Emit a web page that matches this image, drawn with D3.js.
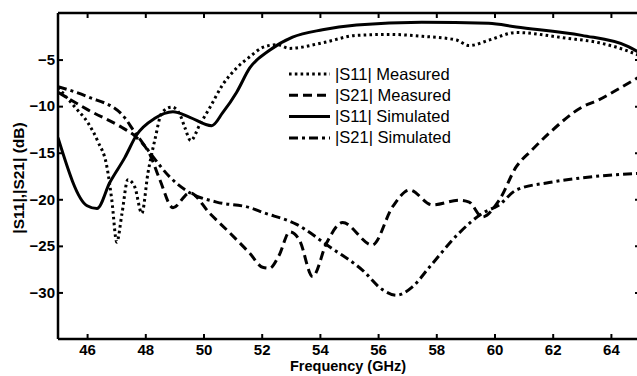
<!DOCTYPE html>
<html>
<head>
<meta charset="utf-8">
<script src="https://cdn.jsdelivr.net/npm/d3@7"></script>
<style>
  html, body { margin: 0; padding: 0; background: #fff; }
  svg { display: block; overflow: hidden; }
</style>
</head>
<body>
<svg id="chart" width="637" height="376"></svg>
<script>
// ---- Data ----
const xTicks = [46, 48, 50, 52, 54, 56, 58, 60, 62, 64];
const yTicks = [-5, -10, -15, -20, -25, -30];

const s11MeasF = [45, 45.58, 46.03, 46.37, 46.68, 46.85, 47.02, 47.2, 47.4, 47.64, 47.88, 48.09, 48.33, 48.57, 48.91, 49.19, 49.36, 49.56, 49.87, 50.21, 50.66, 51.14, 51.59, 52.03, 52.51, 52.96, 54.09, 55.26, 56.39, 57.52, 58.69, 59.13, 59.82, 60.75, 62.46, 63.6, 64.6, 65];
const s11MeasV = [-8.0, -10.1, -11.8, -13.8, -16.5, -20.1, -24.6, -21.5, -17.9, -18.7, -21.5, -17.2, -13.6, -10.7, -10.1, -10.9, -12.3, -13.7, -12.0, -10.2, -7.7, -5.9, -4.7, -3.7, -3.4, -3.8, -3.2, -2.4, -2.3, -2.5, -2.9, -3.5, -2.9, -2.1, -2.7, -3.2, -4.1, -4.6];

const s21MeasF = [45, 46.03, 47.2, 47.64, 48.16, 48.5, 48.95, 49.53, 50.21, 50.9, 51.59, 52.03, 52.27, 52.6, 52.96, 53.3, 53.75, 54.23, 54.78, 55.8, 56.5, 57.08, 57.86, 58.79, 59.13, 59.58, 60.16, 60.75, 61.29, 61.88, 63.01, 63.6, 64.18, 65];
const s21MeasV = [-8.5, -10.4, -12.3, -13.2, -15.2, -17.9, -20.9, -19.3, -21.5, -23.6, -25.8, -27.3, -27.4, -26.0, -23.5, -24.4, -28.3, -24.7, -22.5, -24.9, -20.8, -19.0, -20.6, -20.1, -20.3, -21.9, -20.1, -16.5, -14.7, -12.9, -10.1, -9.3, -8.3, -6.8];

const s11SimF = [45, 46.0, 46.34, 46.78, 47.3, 47.7, 48.33, 48.95, 49.53, 50.28, 50.66, 51.14, 51.59, 52.27, 53.06, 54.09, 55.26, 57.5, 59.8, 60.75, 63.0, 64.6, 65];
const s11SimV = [-13.4, -20.7, -21.0, -18.2, -15.5, -13.1, -11.3, -10.6, -11.2, -12.1, -10.7, -8.5, -5.9, -4.0, -2.6, -1.8, -1.3, -1.0, -1.1, -1.5, -2.4, -3.6, -4.3];

const s21SimF = [45, 46.03, 47.2, 47.64, 48.16, 48.84, 49.53, 50.45, 51.59, 52.03, 53.2, 54.33, 55.46, 56.15, 56.63, 57.18, 57.76, 58.79, 59.58, 60.16, 60.75, 61.88, 63.01, 65];
const s21SimV = [-7.9, -9.0, -10.9, -12.8, -15.0, -17.6, -19.3, -20.3, -20.9, -21.4, -22.7, -25.1, -27.6, -29.7, -30.3, -29.4, -27.3, -23.6, -21.5, -20.6, -19.0, -18.2, -17.7, -17.2];

const legendLabels = ["|S11| Measured", "|S21| Measured", "|S11| Simulated", "|S21| Simulated"];

// ---- Layout ----
const svg = d3.select("#chart");
const L = 58, R = 640, T = 13, B = 339;
const x = d3.scaleLinear().domain([45, 65]).range([L, R]);
const y = d3.scaleLinear().domain([-35, 0]).range([B, T]);

const series = [
  { f: s11MeasF, v: s11MeasV, dash: "2.6,3.2", width: 3 },
  { f: s21MeasF, v: s21MeasV, dash: "9,5", width: 3 },
  { f: s11SimF,  v: s11SimV,  dash: null, width: 3 },
  { f: s21SimF,  v: s21SimV,  dash: "9,4,3,4", width: 3 }
];

svg.append("defs").append("clipPath").attr("id", "clip")
  .append("rect").attr("x", L).attr("y", T).attr("width", R - L).attr("height", B - T);

const line = d3.line().x(d => x(d[0])).y(d => y(d[1])).curve(d3.curveMonotoneX);

const g = svg.append("g").attr("clip-path", "url(#clip)");
series.forEach(s => {
  const pts = s.f.map((f, i) => [f, s.v[i]]);
  g.append("path").datum(pts)
    .attr("d", line)
    .attr("fill", "none")
    .attr("stroke", "#000")
    .attr("stroke-width", s.width)
    .attr("stroke-dasharray", s.dash)
    .attr("stroke-linejoin", "round");
});

// ---- Axes ----
const fontFam = "'Liberation Sans', Arial, sans-serif";
const axB = svg.append("g").attr("transform", `translate(0,${B})`)
  .call(d3.axisBottom(x).tickValues(xTicks).tickSize(-5).tickPadding(5).tickFormat(d3.format("d")));
const axT = svg.append("g").attr("transform", `translate(0,${T})`)
  .call(d3.axisTop(x).tickValues(xTicks).tickSize(-5).tickFormat(""));
const axL = svg.append("g").attr("transform", `translate(${L},0)`)
  .call(d3.axisLeft(y).tickValues(yTicks).tickSize(-5).tickPadding(3).tickFormat(d3.format("d")));
const axR = svg.append("g").attr("transform", `translate(${R},0)`)
  .call(d3.axisRight(y).tickValues(yTicks).tickSize(-5).tickFormat(""));

[axB, axT, axL, axR].forEach(a => {
  a.select(".domain").attr("stroke", "#000").attr("stroke-width", 2.5);
  a.selectAll(".tick line").attr("stroke", "#000").attr("stroke-width", 2);
  a.selectAll("text").attr("font-family", fontFam).attr("font-weight", "bold")
    .attr("font-size", 15).attr("fill", "#000");
});
axB.select(".domain").attr("d", `M${L},0H${R}`);
axT.select(".domain").attr("d", `M${L},0H${R}`);
axL.select(".domain").attr("d", `M0,${T}V${B}`);
axR.select(".domain").attr("d", `M0,${T}V${B}`);

// Axis titles
svg.append("text")
  .attr("x", 348).attr("y", 371)
  .attr("text-anchor", "middle")
  .attr("font-family", fontFam).attr("font-weight", "bold").attr("font-size", 14.5)
  .text("Frequency (GHz)");

svg.append("text")
  .attr("transform", "translate(24,178) rotate(-90)")
  .attr("text-anchor", "middle")
  .attr("font-family", fontFam).attr("font-weight", "bold").attr("font-size", 15.5)
  .text("|S11|,|S21| (dB)");

// ---- Legend ----
const legY0 = 74, legDy = 21.3;
const leg = svg.append("g");
series.forEach((s, i) => {
  const yy = legY0 + i * legDy;
  leg.append("line")
    .attr("x1", 289).attr("x2", 330).attr("y1", yy).attr("y2", yy)
    .attr("stroke", "#000").attr("stroke-width", s.width)
    .attr("stroke-dasharray", s.dash);
  leg.append("text")
    .attr("x", 335).attr("y", yy + 5.5)
    .attr("font-family", fontFam).attr("font-size", 16.5)
    .text(legendLabels[i]);
});
</script>
</body>
</html>
